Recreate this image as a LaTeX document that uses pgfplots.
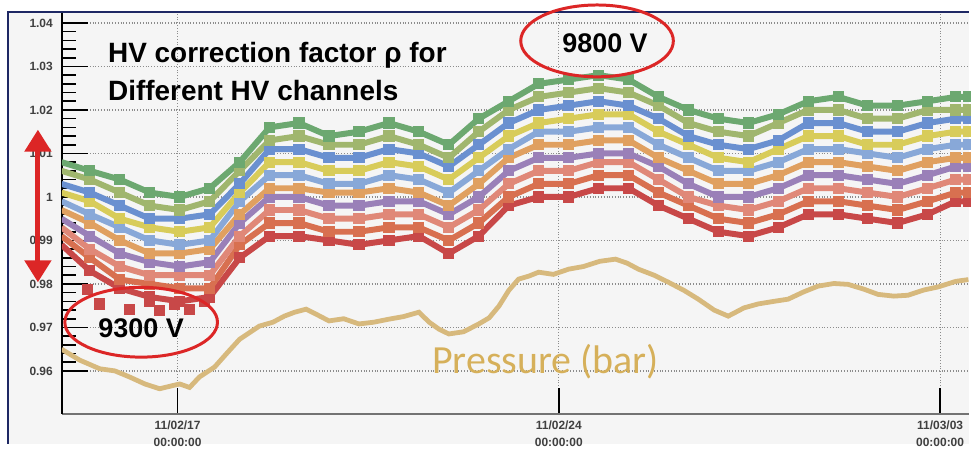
\documentclass[border=0pt]{standalone}
\usepackage{fontspec}
\setmainfont{Liberation Sans}
\newfontfamily\calibri{Carlito}
\usepackage{pgfplots}
\usepackage{pgfplotstable}
\pgfplotsset{compat=1.18}
\usetikzlibrary{arrows.meta}

\definecolor{cA}{RGB}{108,168,112}
\definecolor{cB}{RGB}{160,182,110}
\definecolor{cC}{RGB}{106,144,208}
\definecolor{cD}{RGB}{216,204,90}
\definecolor{cE}{RGB}{136,168,216}
\definecolor{cF}{RGB}{224,160,96}
\definecolor{cG}{RGB}{154,128,184}
\definecolor{cH}{RGB}{224,136,120}
\definecolor{cI}{RGB}{216,112,80}
\definecolor{cJ}{RGB}{200,72,72}
\definecolor{presscol}{RGB}{215,185,125}
\definecolor{goldtext}{RGB}{214,176,90}
\definecolor{annred}{RGB}{220,38,38}
\definecolor{framenavy}{RGB}{30,40,100}

% time in days from 11/02/17 00:00, one column per HV channel (top to bottom)
\pgfplotstableread{
d     cA    cB    cC    cD    cE    cF    cG    cH    cI    cJ
-2.13 1.008 1.006 1.003 1.001 0.999 0.997 0.995 0.993 0.991 0.989
-1.61 1.006 1.004 1.001 0.999 0.996 0.994 0.991 0.988 0.986 0.983
-1.06 1.004 1.001 0.998 0.995 0.993 0.990 0.987 0.984 0.981 0.979
-0.51 1.001 0.998 0.995 0.993 0.990 0.987 0.985 0.982 0.980 0.977
0.04  1.000 0.997 0.995 0.992 0.989 0.987 0.984 0.982 0.979 0.976
0.59  1.002 0.999 0.996 0.993 0.990 0.988 0.985 0.982 0.979 0.977
1.14  1.008 1.006 1.003 1.001 0.999 0.996 0.994 0.991 0.989 0.986
1.69  1.016 1.013 1.011 1.008 1.005 1.002 1.000 0.997 0.994 0.991
2.23  1.017 1.014 1.011 1.008 1.005 1.002 1.000 0.997 0.994 0.991
2.78  1.014 1.012 1.009 1.006 1.003 1.001 0.998 0.995 0.992 0.990
3.33  1.015 1.012 1.009 1.006 1.003 1.001 0.998 0.995 0.992 0.989
3.88  1.017 1.014 1.011 1.008 1.005 1.002 0.999 0.996 0.993 0.990
4.43  1.015 1.012 1.010 1.007 1.004 1.001 0.999 0.996 0.993 0.991
4.98  1.012 1.009 1.007 1.004 1.001 0.998 0.996 0.993 0.990 0.987
5.53  1.018 1.015 1.012 1.009 1.006 1.003 1.000 0.997 0.994 0.991
6.08  1.022 1.020 1.017 1.014 1.011 1.009 1.006 1.003 1.000 0.998
6.63  1.026 1.023 1.020 1.017 1.015 1.012 1.009 1.006 1.003 1.000
7.18  1.027 1.024 1.021 1.018 1.015 1.012 1.009 1.006 1.003 1.000
7.73  1.028 1.025 1.022 1.019 1.016 1.013 1.010 1.008 1.005 1.002
8.28  1.027 1.024 1.021 1.019 1.016 1.013 1.010 1.008 1.005 1.002
8.83  1.023 1.021 1.018 1.015 1.012 1.009 1.007 1.004 1.001 0.998
9.38  1.020 1.017 1.014 1.012 1.009 1.006 1.003 1.000 0.998 0.995
9.93  1.018 1.015 1.012 1.009 1.006 1.003 1.000 0.998 0.995 0.992
10.48 1.017 1.014 1.011 1.008 1.006 1.003 1.000 0.997 0.994 0.991
11.03 1.019 1.017 1.013 1.011 1.008 1.005 1.002 0.999 0.996 0.993
11.58 1.022 1.020 1.017 1.014 1.011 1.008 1.005 1.002 0.999 0.996
12.13 1.023 1.020 1.017 1.014 1.011 1.008 1.005 1.002 0.999 0.996
12.67 1.021 1.018 1.015 1.012 1.010 1.007 1.004 1.001 0.998 0.995
13.22 1.021 1.018 1.015 1.012 1.009 1.006 1.003 1.000 0.997 0.994
13.77 1.022 1.020 1.017 1.014 1.011 1.008 1.005 1.002 0.999 0.996
14.29 1.023 1.020 1.018 1.015 1.012 1.009 1.007 1.004 1.001 0.999
14.52 1.023 1.020 1.018 1.015 1.012 1.009 1.007 1.004 1.001 0.999
}\hvdata

\pgfplotstableread{
d     p
-2.13 0.9650
-1.80 0.9625
-1.43 0.9605
-1.15 0.9600
-0.88 0.9586
-0.60 0.9570
-0.33 0.9559
-0.10 0.9566
0.04  0.9570
0.22  0.9562
0.40  0.9586
0.68  0.9609
0.90  0.9640
1.14  0.9673
1.50  0.9703
1.75  0.9712
1.96  0.9726
2.15  0.9735
2.36  0.9742
2.55  0.9730
2.78  0.9715
3.05  0.9720
3.33  0.9708
3.60  0.9712
3.88  0.9719
4.15  0.9725
4.43  0.9735
4.62  0.9712
4.80  0.9696
4.98  0.9685
5.25  0.9690
5.53  0.9708
5.72  0.9722
5.90  0.9749
6.08  0.9785
6.26  0.9811
6.45  0.9818
6.63  0.9827
6.90  0.9822
7.18  0.9834
7.45  0.9840
7.75  0.9852
8.04  0.9857
8.25  0.9848
8.46  0.9834
8.75  0.9820
9.01  0.9804
9.30  0.9785
9.56  0.9765
9.85  0.9740
10.11 0.9726
10.40 0.9745
10.66 0.9754
10.95 0.9760
11.21 0.9765
11.50 0.9782
11.76 0.9795
12.05 0.9801
12.31 0.9799
12.60 0.9788
12.86 0.9776
13.15 0.9772
13.41 0.9774
13.70 0.9786
13.96 0.9793
14.29 0.9806
14.52 0.9810
}\pressdata

\begin{document}
\begin{tikzpicture}
\begin{scope}[x=0.5pt,y=-0.5pt]
\useasboundingbox (0,0) rectangle (971,445);
\fill[white] (0,0) rectangle (971,445);
\fill[black!4] (8,12) rectangle (971,445);
\end{scope}

\begin{axis}[
  at={(31pt,-207.5pt)}, anchor=south west,
  scale only axis, width=454.5pt, height=201pt,
  xmin=-2.125, xmax=14.524, ymin=0.9501, ymax=1.0423,
  axis x line*=bottom, axis y line*=left,
  x axis line style={line width=1.4pt, black!55},
  y axis line style={line width=0.8pt, black},
  tick align=inside,
  xtick={0,7,14},
  xticklabels={{11/02/17\\00:00:00},{11/02/24\\00:00:00},{11/03/03\\00:00:00}},
  ytick={0.96,0.97,0.98,0.99,1.00,1.01,1.02,1.03,1.04},
  yticklabels={0.96,0.97,0.98,0.99,1,1.01,1.02,1.03,1.04},
  minor y tick num=4, minor x tick num=0,
  major tick length=13pt, minor tick length=7pt,
  tick style={black, line width=0.8pt},
  /pgf/number format/assume math mode=true,
  xticklabel style={align=center, font=\bfseries\fontsize{6}{8.5}\selectfont, text=black!75},
  yticklabel style={font=\bfseries\fontsize{6}{7}\selectfont, text=black!75, xshift=-1pt},
  grid=major,
  major grid style={densely dotted, black!45, line width=0.6pt},
  every axis plot/.append style={line width=3pt, mark=square*, mark size=1.3pt, mark options={solid}},
  clip=true,
]
\addplot[cJ] table[x=d, y=cJ]{\hvdata};
\addplot[cI] table[x=d, y=cI]{\hvdata};
\addplot[cH] table[x=d, y=cH]{\hvdata};
\addplot[cG] table[x=d, y=cG]{\hvdata};
\addplot[cF] table[x=d, y=cF]{\hvdata};
\addplot[cE] table[x=d, y=cE]{\hvdata};
\addplot[cD] table[x=d, y=cD]{\hvdata};
\addplot[cC] table[x=d, y=cC]{\hvdata};
\addplot[cB] table[x=d, y=cB]{\hvdata};
\addplot[cA] table[x=d, y=cA]{\hvdata};
% low points of the 9300 V channel
\addplot[only marks, mark=square*, mark size=1.3pt, cJ] coordinates {
(-1.65,0.9788) (-1.43,0.9754) (-0.88,0.9742) (-0.51,0.9760)
(-0.33,0.9738) (-0.05,0.9754) (0.22,0.9742) (0.49,0.9760)};
\addplot[presscol, line width=2.4pt, no marks] table[x=d, y=p]{\pressdata};
\end{axis}

\begin{scope}[x=0.5pt,y=-0.5pt]
\draw[framenavy, line width=0.8pt] (8,445) -- (8,12) -- (971,12);
\node[anchor=base west, inner sep=0pt, font=\bfseries\fontsize{14}{17}\selectfont] at (108,63) {HV correction factor ρ for};
\node[anchor=base west, inner sep=0pt, font=\bfseries\fontsize{14}{17}\selectfont] at (108,101) {Different HV channels};
\draw[annred, line width=1.5pt] (598.5,41) ellipse [x radius=38.25pt, y radius=18pt];
\node[anchor=base, inner sep=0pt, font=\bfseries\fontsize{13.5}{16}\selectfont] at (606.5,53) {9800 V};
\draw[annred, line width=1.5pt] (141.5,323) ellipse [x radius=38.25pt, y radius=17.5pt];
\node[anchor=base, inner sep=0pt, font=\bfseries\fontsize{13.5}{16}\selectfont] at (141.5,338) {9300 V};
\draw[annred, line width=2.5pt, {Triangle[length=11pt,width=13pt]}-{Triangle[length=11pt,width=13pt]}] (38,130) -- (38,283);
\node[anchor=base west, inner sep=0pt, font=\calibri\fontsize{20}{24}\selectfont, text=goldtext] at (433,374) {Pressure (bar)};
\end{scope}
\end{tikzpicture}
\end{document}
